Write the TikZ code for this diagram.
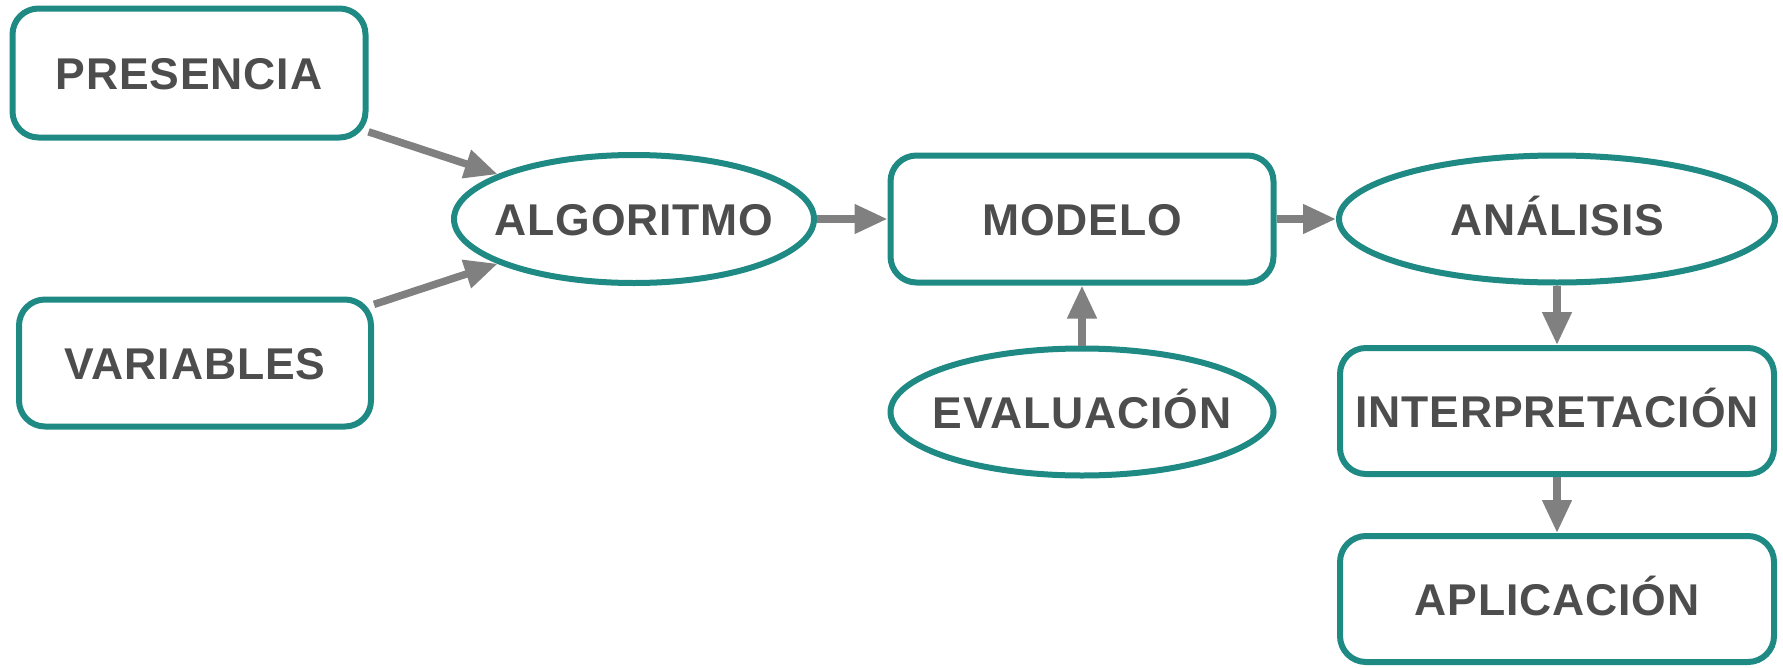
\documentclass[tikz,border=0pt]{standalone}
\usepackage{fontspec}
\setmainfont{Liberation Sans}[LetterSpace=2]
\usetikzlibrary{shapes.geometric,arrows.meta}
\definecolor{teal1}{RGB}{31,138,132}
\definecolor{arrgray}{RGB}{128,128,128}
\definecolor{txtgray}{RGB}{77,77,77}
\tikzset{
  txt/.style={text=txtgray, font=\fontsize{44.5}{50}\selectfont\bfseries,
    inner sep=0pt, text height=33pt, text depth=0pt, align=center},
  rbox/.style={txt, draw=teal1, line width=6pt, fill=white, rectangle,
    rounded corners=26pt},
  ell/.style={draw=teal1, line width=6pt, fill=white, ellipse, inner sep=0pt},
  conn/.style={draw=arrgray, line width=7.5pt,
    -{Triangle[length=33pt,width=28pt]}},
}
\begin{document}
\begin{tikzpicture}[x=1pt,y=-1pt]
\useasboundingbox (0,0) rectangle (1783,667);
\node[rbox, minimum width=353pt, minimum height=129pt] (pre) at (189,73) {PRESENCIA};
\node[rbox, minimum width=352pt, minimum height=127pt] (var) at (195,363) {VARIABLES};
\node[ell, minimum width=360pt, minimum height=128pt] (alg) at (634,219) {};
\node[txt] (algt) at (alg) {ALGORITMO};
\node[rbox, minimum width=383pt, minimum height=127pt] (mod) at (1082,219) {MODELO};
\node[ell, minimum width=383pt, minimum height=127pt] (eva) at (1082,412) {};
\node[txt] (evat) at (eva) {EVALUACIÓN};
\node[ell, minimum width=436pt, minimum height=127pt] (ana) at (1557,219) {};
\node[txt] (anat) at (ana) {ANÁLISIS};
\node[rbox, minimum width=434pt, minimum height=126pt] (int) at (1557,411) {INTERPRETACIÓN};
\node[rbox, minimum width=434pt, minimum height=126pt] (apl) at (1557,599) {APLICACIÓN};
\draw[conn] (pre) -- (alg);
\draw[conn] (var) -- (alg);
\draw[conn] (alg.east) -- (mod.west);
\draw[conn] (mod.east) -- (ana.west);
\draw[conn] (eva.north) -- (mod.south);
\draw[conn] (ana.south) -- (int.north);
\draw[conn] (int.south) -- (apl.north);
\end{tikzpicture}
\end{document}
